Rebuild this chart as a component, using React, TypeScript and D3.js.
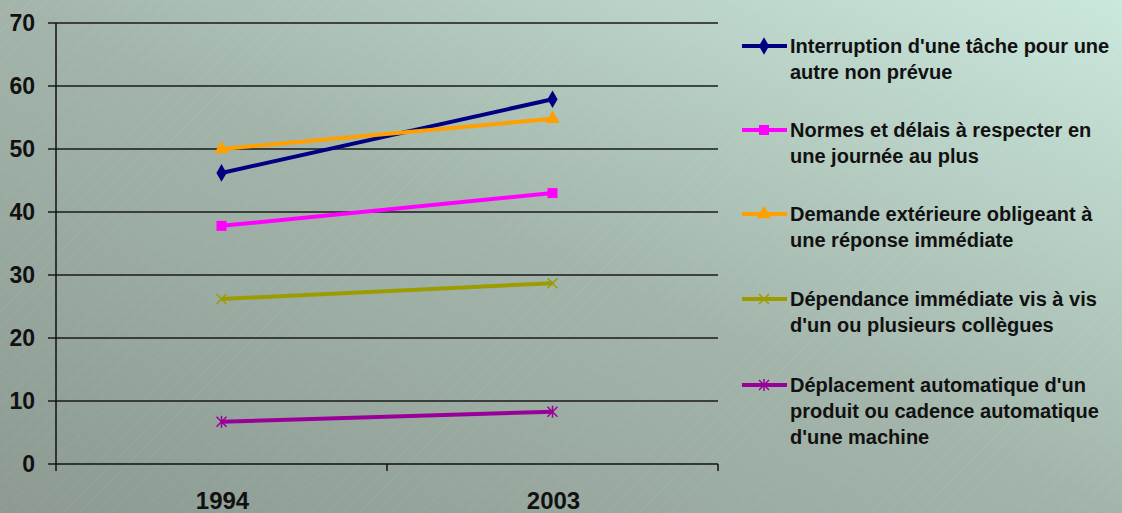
import React from "react";
import * as d3 from "d3";

const categories = ["1994", "2003"];
const seriesNames = [
  ["Interruption d'une tâche pour une", "autre non prévue"],
  ["Normes et délais à respecter en", "une journée au plus"],
  ["Demande extérieure obligeant à", "une réponse immédiate"],
  ["Dépendance immédiate vis à vis", "d'un ou plusieurs collègues"],
  ["Déplacement automatique d'un", "produit ou cadence automatique", "d'une machine"],
];
const interruption = [46.2, 57.9];
const normes = [37.8, 43.0];
const demande = [50.0, 54.8];
const dependance = [26.2, 28.7];
const deplacement = [6.7, 8.3];
const yTicks = [0, 10, 20, 30, 40, 50, 60, 70];

const seriesValues = [interruption, normes, demande, dependance, deplacement];
const colors = ["#000080", "#ff00ff", "#ffa000", "#9c9c00", "#990099"];
const markers = ["diamond", "square", "triangle", "x", "asterisk"];

const W = 1122, H = 513;
const x0 = 56, x1 = 718, yTop = 23, yBot = 464;

function Marker({ kind, x, y, color }: { kind: string; x: number; y: number; color: string }) {
  if (kind === "diamond") {
    const p = d3.symbol(d3.symbolDiamond, 90)();
    return <path d={p!} transform={`translate(${x},${y})`} fill={color} />;
  }
  if (kind === "square") {
    return <rect x={x - 5} y={y - 5} width={10} height={10} fill={color} />;
  }
  if (kind === "triangle") {
    const p = d3.symbol(d3.symbolTriangle, 90)();
    return <path d={p!} transform={`translate(${x},${y})`} fill={color} />;
  }
  if (kind === "x") {
    return (
      <g stroke={color} strokeWidth={1.5}>
        <line x1={x - 5} y1={y - 5} x2={x + 5} y2={y + 5} />
        <line x1={x - 5} y1={y + 5} x2={x + 5} y2={y - 5} />
      </g>
    );
  }
  return (
    <g stroke={color} strokeWidth={1.5}>
      <line x1={x - 5} y1={y - 5} x2={x + 5} y2={y + 5} />
      <line x1={x - 5} y1={y + 5} x2={x + 5} y2={y - 5} />
      <line x1={x} y1={y - 6} x2={x} y2={y + 6} />
    </g>
  );
}

export default function App() {
  const xScale = d3.scaleBand<string>().domain(categories).range([x0, x1]);
  const yScale = d3.scaleLinear().domain([0, 70]).range([yBot, yTop]);
  const line = d3
    .line<number>()
    .x((_, i) => (xScale(categories[i]) as number) + xScale.bandwidth() / 2)
    .y((v) => yScale(v));
  const font = "'Liberation Sans', Arial, sans-serif";
  const legendY = [46, 130, 214, 299, 385];

  return (
    <svg
      width={W}
      height={H}
      style={{ position: "absolute", left: 0, top: 0, fontFamily: font }}
    >
      <defs>
        <linearGradient id="bg" x1="0" y1="1" x2="1" y2="0">
          <stop offset="0" stopColor="#8c9a92" />
          <stop offset="0.5" stopColor="#a3b5ab" />
          <stop offset="1" stopColor="#cbe8dc" />
        </linearGradient>
        <pattern id="stripes" width="11" height="11" patternUnits="userSpaceOnUse" patternTransform="rotate(45)">
          <line x1="0" y1="0" x2="0" y2="11" stroke="#ffffff" strokeWidth="1" strokeOpacity="0.09" />
        </pattern>
      </defs>
      <rect width={W} height={H} fill="url(#bg)" />
      <rect width={W} height={H} fill="url(#stripes)" />

      {/* gridlines */}
      {yTicks.map((t) => (
        <g key={t}>
          {t > 0 && (
            <line x1={x0} x2={x1} y1={yScale(t)} y2={yScale(t)} stroke="#1a1a1a" strokeWidth={1.5} />
          )}
          <line x1={x0 - 8} x2={x0} y1={yScale(t)} y2={yScale(t)} stroke="#1a1a1a" strokeWidth={1.5} />
          <text
            x={35}
            y={yScale(t)}
            dy="0.36em"
            textAnchor="end"
            fontSize={23}
            fontWeight="bold"
            fill="#111"
          >
            {t}
          </text>
        </g>
      ))}
      {/* axes */}
      <line x1={x0} x2={x0} y1={yTop} y2={yBot} stroke="#111" strokeWidth={1.5} />
      <line x1={x0} x2={x1} y1={yBot} y2={yBot} stroke="#111" strokeWidth={1.5} />
      {[x0, x0 + xScale.bandwidth(), x1].map((xx, i) => (
        <line key={i} x1={xx} x2={xx} y1={yBot} y2={yBot + 7} stroke="#111" strokeWidth={1.5} />
      ))}
      {categories.map((c) => (
        <text
          key={c}
          x={(xScale(c) as number) + xScale.bandwidth() / 2 + 1}
          y={509}
          textAnchor="middle"
          fontSize={24}
          fontWeight="bold"
          fill="#111"
        >
          {c}
        </text>
      ))}

      {/* series */}
      {seriesValues.map((vals, si) => (
        <g key={si}>
          <path d={line(vals)!} fill="none" stroke={colors[si]} strokeWidth={4} />
          {vals.map((v, i) => (
            <Marker
              key={i}
              kind={markers[si]}
              x={(xScale(categories[i]) as number) + xScale.bandwidth() / 2}
              y={yScale(v)}
              color={colors[si]}
            />
          ))}
        </g>
      ))}

      {/* legend */}
      {seriesNames.map((lines, si) => (
        <g key={si}>
          <line x1={742} x2={787} y1={legendY[si]} y2={legendY[si]} stroke={colors[si]} strokeWidth={4} />
          <Marker kind={markers[si]} x={764} y={legendY[si]} color={colors[si]} />
          {lines.map((l, li) => (
            <text
              key={li}
              x={790}
              y={legendY[si] + 7 + li * 26}
              fontSize={20}
              fontWeight="bold"
              fill="#111"
            >
              {l}
            </text>
          ))}
        </g>
      ))}
    </svg>
  );
}
